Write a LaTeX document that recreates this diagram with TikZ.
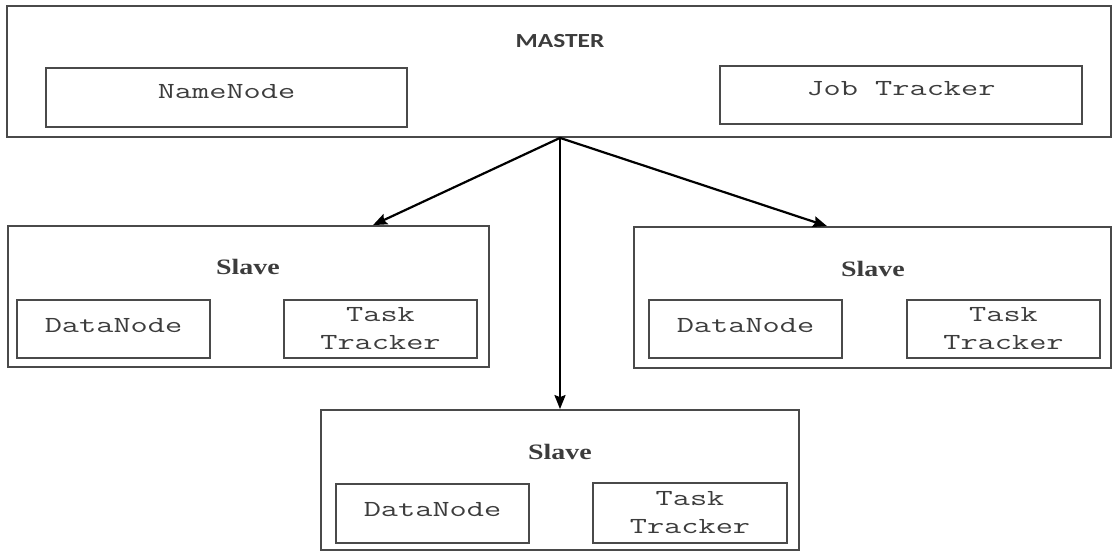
\documentclass[tikz,border=0pt]{standalone}
\usepackage{fontspec}
\usetikzlibrary{arrows.meta}
\newfontfamily\monof[FakeStretch=1.45]{Latin Modern Mono}
\newfontfamily\serifb[FakeStretch=1.27]{Liberation Serif}
\newfontfamily\labelf[FakeStretch=1.27]{Carlito}
\definecolor{edge}{HTML}{4A4A4A}
\definecolor{ink}{HTML}{3C3C3C}
\tikzset{
  unitbox/.style={draw=edge, line width=1.8pt, rectangle, inner sep=0pt},
  part/.style={unitbox, text=ink, font=\monof\fontsize{23}{28}\selectfont, align=center},
  lift/.style={text depth=#1},
  title/.style={text=ink, font=\serifb\bfseries\fontsize{22}{26}\selectfont, inner sep=0pt},
  link/.style={line width=2.2pt, black, -{Stealth[length=14pt, width=11pt, inset=2pt]}}
}
\begin{document}
\begin{tikzpicture}[x=1pt, y=-1pt]
  \useasboundingbox (0,0) rectangle (1114,552);

  % master block
  \node[unitbox, minimum width=1104pt, minimum height=131pt] (master) at (559,71.5) {};
  \node[text=ink, font=\labelf\bfseries\fontsize{20}{24}\selectfont, inner sep=0pt] (mlabel) at (560,41) {MASTER};
  \node[part, lift=13pt, minimum width=361pt, minimum height=59pt] (namenode) at (226.5,97.5) {NameNode};
  \node[part, lift=13pt, minimum width=362pt, minimum height=58pt] (jobtracker) at (901,95) {Job Tracker};

  % left slave
  \node[unitbox, minimum width=481pt, minimum height=141pt] (sl) at (248.5,296.5) {};
  \node[title] (sltitle) at (248,267) {Slave};
  \node[part, lift=8pt, minimum width=193pt, minimum height=58pt] (sldata) at (113.5,329) {DataNode};
  \node[part, minimum width=193pt, minimum height=58pt] (sltask) at (380.5,329) {Task\\Tracker};

  % right slave
  \node[unitbox, minimum width=477pt, minimum height=141pt] (sr) at (872.5,297.5) {};
  \node[title] (srtitle) at (873,269) {Slave};
  \node[part, lift=8pt, minimum width=193pt, minimum height=58pt] (srdata) at (745.5,329) {DataNode};
  \node[part, minimum width=193pt, minimum height=58pt] (srtask) at (1003.5,329) {Task\\Tracker};

  % bottom slave
  \node[unitbox, minimum width=478pt, minimum height=140pt] (sb) at (560,480) {};
  \node[title] (sbtitle) at (560,452) {Slave};
  \node[part, lift=8pt, minimum width=193pt, minimum height=59pt] (sbdata) at (432.5,513.5) {DataNode};
  \node[part, minimum width=194pt, minimum height=60pt] (sbtask) at (690,513) {Task\\Tracker};

  % links from master to slaves
  \coordinate (hub) at ([xshift=1pt]master.south);
  \draw[link] (hub) -- ([xshift=124.5pt]sl.north);
  \draw[link] (hub) -- (sb.north);
  \draw[link] (hub) -- ([xshift=-45.5pt]sr.north);
\end{tikzpicture}
\end{document}
